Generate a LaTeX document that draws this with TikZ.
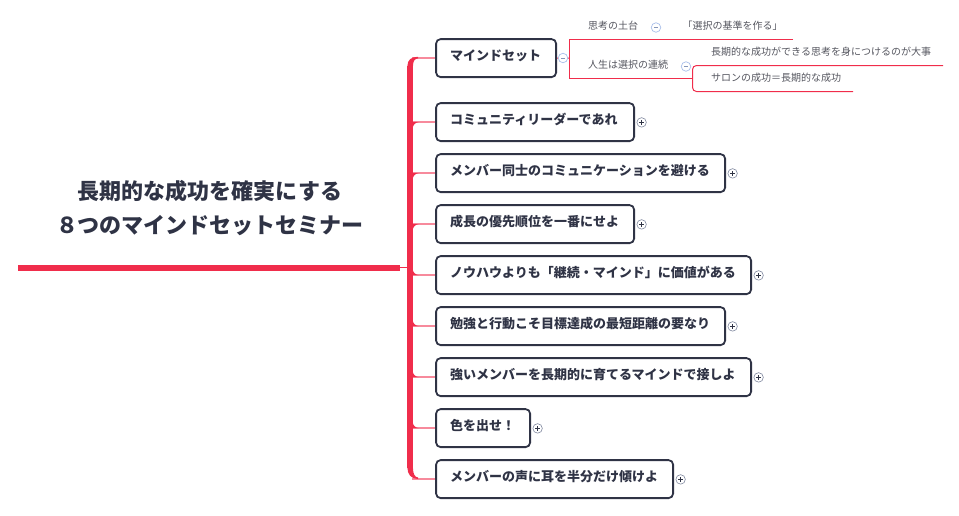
\documentclass[tikz,border=0pt]{standalone}
\usepackage{fontspec}
\setmainfont{Noto Sans CJK JP}
\usetikzlibrary{positioning}
\definecolor{inkdark}{HTML}{2F3345}
\definecolor{inkgrey}{HTML}{55565F}
\definecolor{mapred}{HTML}{F02D4B}
\definecolor{mappink}{HTML}{F78A9C}
\definecolor{foldblue}{HTML}{A9BFEA}
\definecolor{foldring}{HTML}{7F879E}
\tikzset{
  topicbox/.style={draw=inkdark, line width=1.8pt, rounded corners=4.5pt, minimum height=38pt, inner sep=0pt, anchor=north west},
  topictext/.style={inner sep=0pt, anchor=west, font=\fontsize{13}{13}\bfseries, text=inkdark},
  subtopic/.style={inner sep=0pt, anchor=west, font=\fontsize{10}{10}\selectfont, text=inkgrey},
  foldplus/.style={circle, draw=foldring, line width=0.6pt, minimum size=9.5pt, inner sep=0pt, fill=white},
  foldminus/.style={circle, draw=foldblue, line width=0.7pt, minimum size=9.5pt, inner sep=0pt, fill=white},
  thinred/.style={draw=mapred, line width=1pt},
  branch/.style={draw=mappink, line width=1.6pt}
}
\begin{document}
\begin{tikzpicture}[x=1pt, y=-1pt]
\useasboundingbox (0,0) rectangle (959,515);
% title and main line
\node[font=\fontsize{22}{34}\bfseries, text=inkdark, align=center] (title) at (210,208.5) {長期的な成功を確実にする\\８つのマインドセットセミナー};
\coordinate (linestart) at (18,267.8);
\coordinate (lineend) at (400,267.8);
\draw[mapred, line width=5.6pt] (linestart) -- (lineend);
% topics
\foreach \nm/\ypos/\wid/\txt in {
  t1/39/120/マインドセット,
  t2/103/198/コミュニティリーダーであれ,
  t3/154/289/メンバー同士のコミュニケーションを避ける,
  t4/205/198/成長の優先順位を一番にせよ,
  t5/256/315/ノウハウよりも「継続・マインド」に価値がある,
  t6/307/289/勉強と行動こそ目標達成の最短距離の要なり,
  t7/358/315/強いメンバーを長期的に育てるマインドで接しよ,
  t8/409/94/色を出せ！,
  t9/460/237/メンバーの声に耳を半分だけ傾けよ}
{
  \node[topicbox, minimum width=\wid pt] (\nm) at (435.2,\ypos-0.8) {};
  \node[topictext] (\nm text) at ([xshift=14.8pt, yshift=2.2pt]\nm.west) {\txt};
  \draw[branch] (\nm.west) -- ++(-23pt,0);
}
% trunk
\coordinate (trunktop) at (410.2,66);
\coordinate (trunkbottom) at (410.2,468);
\draw[mapred, line width=5.5pt] (trunktop) -- (trunkbottom);
\fill[mapred] (407.45,66) .. controls (407.45,60) and (411,56.8) .. (418,56.8) -- (418,58.4) .. controls (415,58.4) and (412.95,61) .. (412.95,66) -- cycle;
\fill[mapred] (407.45,468) .. controls (407.45,474) and (411,479) .. (418,479) -- (418,477.4) .. controls (415,477.4) and (412.95,474) .. (412.95,468) -- cycle;
\foreach \nm/\sgn in {t2/-1,t3/-1,t4/-1,t5/1,t6/1,t7/1,t8/1}
{
  \fill[mapred] ([xshift=-22.5pt]\nm.west) -- ++(6pt,0) .. controls +(-3pt,0) and +(0,\sgn*-3pt) .. ++(-6pt,\sgn*6pt) -- cycle;
}
\draw[thinred] (lineend) -- (trunktop |- lineend);
% fold marks
\foreach \nm in {t2,t3,t4,t5,t6,t7,t8,t9}
{
  \node[foldplus] (\nm fold) at ([xshift=6.6pt, yshift=-0.3pt]\nm.east) {\tikz[x=1pt,y=1pt]\draw[inkdark, line width=0.7pt] (-2.2,0) -- (2.2,0) (0,-2.2) -- (0,2.2);};
}
% sub topics
\node[subtopic] (s1) at (588,26) {思考の土台};
\node[subtopic] (s2) at (682.5,26) {「選択の基準を作る」};
\node[subtopic] (s3) at (588,64.5) {人生は選択の連続};
\node[subtopic] (s4) at (711,52) {長期的な成功ができる思考を身につけるのが大事};
\node[subtopic] (s5) at (711,78) {サロンの成功＝長期的な成功};
\coordinate (s1end) at (793,39.5);
\coordinate (s3start) at (569.5,78.5);
\coordinate (s4end) at (943,65.5);
\coordinate (s5end) at (853,91.5);
\coordinate (s4fork) at (692.5,78.5);
\draw[thinred] (t1.east) -- (569.5,58);
\draw[thinred] (s1end) -- (569.5,39.5) -- (s3start) -- (s4fork);
\draw[thinred, rounded corners=4pt] (s4end) -- (692.5,65.5) -- (692.5,91.5) -- (s5end);
\foreach \nm/\xpos/\ypos in {m1/563/58, m2/656/27.5, m3/686/66.5}
{
  \node[foldminus] (\nm) at (\xpos,\ypos) {\tikz[x=1pt,y=1pt]\draw[foldblue!70!inkdark, line width=0.6pt] (-2.2,0) -- (2.2,0);};
}
\end{tikzpicture}
\end{document}
